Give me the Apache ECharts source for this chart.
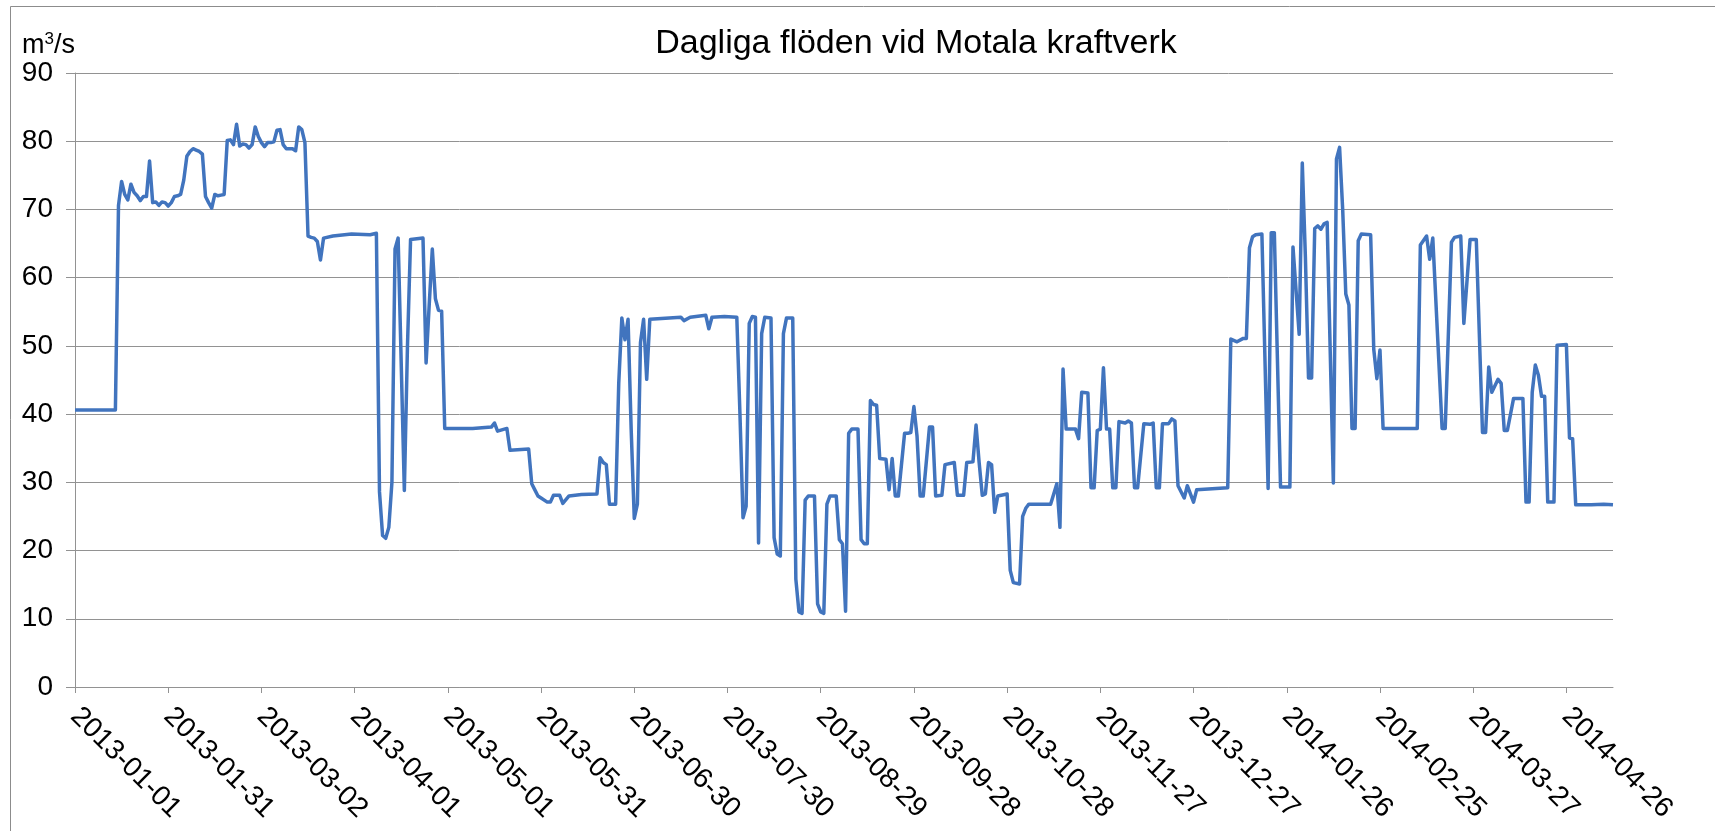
<!DOCTYPE html>
<html>
<head>
<meta charset="utf-8">
<title>Dagliga flöden vid Motala kraftverk</title>
<script src="https://cdn.jsdelivr.net/npm/echarts@6/dist/echarts.min.js"></script>
<style>
  html, body { margin: 0; padding: 0; background: #ffffff; }
  #chart { width: 1715px; height: 831px; }
</style>
</head>
<body>
<div id="chart"></div>
<script>
// First day of the series; every entry in `days` counts days from here.
const START_DATE = '2013-01-01';

// Dates written under the time axis (every 30 days).
const tickLabels = [
  '2013-01-01', '2013-01-31', '2013-03-02', '2013-04-01', '2013-05-01',
  '2013-05-31', '2013-06-30', '2013-07-30', '2013-08-29', '2013-09-28',
  '2013-10-28', '2013-11-27', '2013-12-27', '2014-01-26', '2014-02-25',
  '2014-03-27', '2014-04-26'
];
const lastDay = 495;

// Flow axis ticks (m³/s)
const flowTicks = [0, 10, 20, 30, 40, 50, 60, 70, 80, 90];

// Daily flow where it changes: day number and flow in m³/s.
const days = [
  0, 13, 14, 15, 16, 17, 18, 19, 20, 21, 22, 23, 24, 25, 26, 27, 28, 29,
  30, 31, 32, 33, 34, 35, 36, 37, 38, 39, 40, 41, 42, 43, 44, 45, 46, 47,
  48, 49, 50, 51, 52, 53, 54, 55, 56, 57, 58, 59, 60, 61, 62, 63, 64, 65,
  66, 67, 68, 69, 70, 71, 72, 73, 74, 75, 76, 77, 78, 79, 80, 83, 89, 95,
  97, 98, 99, 100, 101, 102, 103, 104, 106, 107, 108, 112, 113, 114, 115, 116,
  117, 118, 119, 128, 134, 135, 136, 139, 140, 146, 147, 148, 149, 150, 152, 153,
  154, 156, 157, 159, 163, 168, 169, 170, 171, 172, 174, 175, 176, 177, 178, 179,
  180, 181, 182, 183, 184, 185, 195, 196, 198, 203, 204, 205, 209, 213, 214, 215,
  216, 217, 218, 219, 220, 221, 222, 224, 225, 226, 227, 228, 229, 231, 232, 233,
  234, 235, 236, 238, 239, 240, 241, 242, 243, 245, 246, 247, 248, 249, 250, 252,
  253, 254, 255, 256, 257, 258, 259, 261, 262, 263, 264, 265, 267, 268, 269, 270,
  271, 272, 273, 275, 276, 277, 279, 280, 283, 284, 286, 287, 289, 290, 291, 292,
  293, 294, 295, 296, 297, 300, 301, 302, 304, 305, 306, 307, 314, 316, 317, 318,
  319, 322, 323, 324, 326, 327, 328, 329, 330, 331, 332, 333, 334, 335, 336, 338,
  339, 340, 341, 342, 344, 346, 347, 348, 349, 350, 352, 353, 354, 355, 357, 358,
  360, 361, 371, 372, 374, 376, 377, 378, 379, 380, 382, 384, 385, 386, 388, 391,
  392, 394, 395, 396, 397, 398, 399, 400, 401, 402, 403, 405, 406, 407, 408, 409,
  410, 411, 412, 413, 414, 417, 418, 419, 420, 421, 432, 433, 435, 436, 437, 440,
  441, 443, 444, 446, 447, 449, 451, 453, 454, 455, 456, 458, 459, 460, 461, 463,
  466, 467, 468, 469, 470, 471, 472, 473, 474, 476, 477, 480, 481, 482, 483, 488,
  492, 495
];
const flow = [
  40.6, 40.6, 70.6, 74.1, 72.2, 71.4, 73.7, 72.5, 72.0, 71.3, 71.9, 71.9, 77.1, 71.0, 71.1, 70.6, 71.1, 71.0,
  70.5, 71.0, 71.9, 72.0, 72.2, 74.3, 77.8, 78.5, 78.9, 78.7, 78.5, 78.1, 71.9, 71.0, 70.2, 72.2, 72.0, 72.1,
  72.2, 80.1, 80.2, 79.5, 82.5, 79.3, 79.6, 79.5, 79.0, 79.5, 82.1, 80.7, 79.8, 79.2, 79.8, 79.8, 79.9, 81.6,
  81.7, 79.5, 78.9, 78.9, 78.9, 78.6, 82.1, 81.7, 79.8, 66.1, 65.9, 65.8, 65.3, 62.6, 65.8, 66.1, 66.4, 66.3,
  66.5, 28.6, 22.2, 21.8, 23.4, 30.0, 64.2, 65.8, 28.8, 49.9, 65.6, 65.8, 47.5, 56.0, 64.2, 56.9,
  55.2, 55.1, 37.9, 37.9, 38.1, 38.7, 37.5, 37.9, 34.7, 34.9, 29.8, 28.9, 28.0, 27.7, 27.1, 27.1,
  28.1, 28.1, 26.9, 28.0, 28.2, 28.3, 33.6, 32.9, 32.6, 26.8, 26.8, 44.5, 54.1, 50.9, 53.9, 37.8,
  24.7, 26.8, 50.5, 53.9, 45.1, 53.9, 54.2, 53.7, 54.2, 54.5, 52.5, 54.2, 54.3, 54.2, 40.2, 24.8,
  26.5, 53.3, 54.3, 54.2, 21.1, 51.8, 54.2, 54.1, 21.9, 19.5, 19.2, 51.8, 54.1, 54.1, 15.8, 11.0,
  10.8, 27.4, 28.0, 28.0, 12.2, 11.0, 10.8, 26.8, 28.0, 28.0, 21.6, 21.0, 11.1, 37.2, 37.8, 37.8,
  21.6, 21.0, 21.0, 42.0, 41.4, 41.3, 33.5, 33.4, 28.9, 33.5, 28.0, 28.0, 37.2, 37.2, 37.3, 41.1,
  36.8, 28.0, 28.0, 38.1, 38.1, 28.0, 28.1, 32.6, 32.9, 28.1, 28.1, 32.9, 33.0, 38.4, 32.9, 28.1,
  28.3, 32.9, 32.6, 25.6, 28.0, 28.3, 17.1, 15.3, 15.1, 25.0, 26.2, 26.8, 26.8, 29.8, 23.4, 46.6,
  37.8, 37.8, 36.4, 43.2, 43.1, 29.2, 29.2, 37.6, 37.8, 46.8, 37.8, 37.8, 29.2, 29.2, 38.9, 38.7,
  39.0, 38.7, 29.2, 29.2, 38.6, 38.5, 38.7, 29.2, 29.2, 38.6, 38.6, 39.3, 39.0, 29.5, 27.7, 29.5,
  27.1, 28.9, 29.2, 51.0, 50.6, 51.1, 51.1, 64.4, 66.0, 66.3, 66.4, 29.1, 66.6, 66.6, 29.3, 29.3,
  64.5, 51.7, 76.8, 63.0, 45.3, 45.3, 67.2, 67.6, 67.1, 67.9, 68.1, 29.9, 77.4, 79.1, 70.0, 57.6,
  56.0, 37.9, 37.9, 65.4, 66.4, 66.3, 49.5, 45.2, 49.4, 37.9, 37.9, 64.8, 66.1, 62.7, 65.8, 37.9,
  37.9, 65.2, 65.9, 66.1, 53.3, 65.6, 65.6, 37.3, 37.3, 46.9, 43.2, 45.1, 44.5, 37.6, 37.6, 42.3,
  42.3, 27.1, 27.1, 43.2, 47.2, 45.7, 42.6, 42.6, 27.1, 27.1, 50.1, 50.2, 36.5, 36.4, 26.7, 26.7,
  26.8, 26.7
];

const FONT = '"Liberation Sans", Arial, Helvetica, sans-serif';
const GRID_GREY = '#929292';
const LINE_BLUE = '#4174BE';

const DAY_MS = 86400000;
const dayOf = (s) => Math.round((Date.parse(s) - Date.parse(START_DATE)) / DAY_MS);
const tickDays = tickLabels.map(dayOf);
const labelByDay = {};
tickDays.forEach((d, i) => { labelByDay[d] = tickLabels[i]; });

const chart = echarts.init(document.getElementById('chart'), null, { renderer: 'canvas' });

chart.setOption({
  animation: false,
  backgroundColor: '#ffffff',
  textStyle: { fontFamily: FONT },
  grid: {
    left: 75, right: 102, top: 73, bottom: 144,
    containLabel: false,
    outerBoundsMode: 'none'
  },
  graphic: [
    {
      // chart frame
      type: 'rect',
      silent: true,
      shape: { x: 10.5, y: 6.5, width: 1800, height: 900 },
      style: { fill: 'none', stroke: '#8c8c8c', lineWidth: 1 }
    },
    {
      type: 'text',
      silent: true,
      x: 916, y: 44,
      style: {
        text: 'Dagliga flöden vid Motala kraftverk',
        font: '34px ' + FONT,
        fill: '#000000',
        align: 'center',
        verticalAlign: 'middle'
      }
    },
    {
      // unit label m³/s
      type: 'text',
      silent: true,
      x: 22, y: 31,
      style: {
        text: '{a|m}{s|3}{a|/s}',
        fill: '#000000',
        rich: {
          a: { fontSize: 27, fontFamily: FONT, lineHeight: 28, verticalAlign: 'bottom', fill: '#000000' },
          s: { fontSize: 17, fontFamily: FONT, lineHeight: 28, verticalAlign: 'top', fill: '#000000' }
        }
      }
    }
  ],
  xAxis: {
    type: 'value',
    min: 0,
    max: lastDay,
    axisLine: { show: true, lineStyle: { color: GRID_GREY, width: 1 } },
    axisTick: {
      show: true, length: 6, customValues: tickDays,
      lineStyle: { color: GRID_GREY, width: 1 }
    },
    axisLabel: {
      customValues: tickDays,
      rotate: -45,
      margin: 25,
      fontSize: 28,
      fontFamily: FONT,
      color: '#000000',
      formatter: (v) => labelByDay[Math.round(v)] || ''
    },
    splitLine: { show: false }
  },
  yAxis: {
    type: 'value',
    min: flowTicks[0],
    max: flowTicks[flowTicks.length - 1],
    interval: flowTicks[1] - flowTicks[0],
    axisLine: { show: true, lineStyle: { color: GRID_GREY, width: 1 } },
    axisTick: { show: true, length: 9, lineStyle: { color: GRID_GREY, width: 1 } },
    axisLabel: {
      margin: 22,
      fontSize: 28,
      fontFamily: FONT,
      color: '#000000'
    },
    splitLine: { show: true, lineStyle: { color: GRID_GREY, width: 1 } }
  },
  series: [{
    type: 'line',
    name: 'Flöde',
    data: days.map((d, i) => [d, flow[i]]),
    showSymbol: false,
    symbol: 'none',
    lineStyle: { color: LINE_BLUE, width: 3.5, join: 'round' },
    itemStyle: { color: LINE_BLUE }
  }]
});
</script>
</body>
</html>
